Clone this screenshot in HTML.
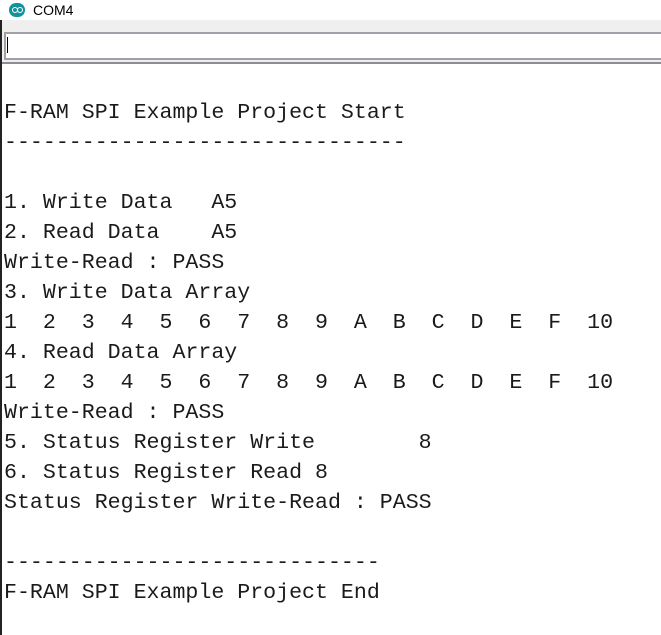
<!DOCTYPE html>
<html><head><style>
html,body{margin:0;padding:0;width:661px;height:635px;overflow:hidden;background:#fff;}
#title{position:absolute;left:0;top:0;width:661px;height:20px;background:#fff;font-family:"Liberation Sans",sans-serif;font-size:14px;color:#000;}
#title span{position:absolute;left:33px;top:2px;}
#icon{position:absolute;left:9px;top:3px;width:16px;height:14px;border-radius:7px;background:#12939b;}
#icon:before{content:"";position:absolute;left:3px;top:4px;width:4px;height:4px;border:1px solid #fff;border-radius:3px;}
#icon:after{content:"";position:absolute;left:8px;top:4px;width:4px;height:4px;border:1px solid #fff;border-radius:3px;}
#lb{position:absolute;left:0;top:20px;width:2px;height:615px;background:#222;}
#bar{position:absolute;left:2px;top:20px;width:659px;height:43px;background:#efefef;}
#inp{position:absolute;left:4px;top:32px;width:660px;height:24px;background:#fff;border:2px solid #a0a0a8;border-right:none;}
#cur{position:absolute;left:7px;top:37px;width:1px;height:16px;background:#000;}
#sep{position:absolute;left:2px;top:62px;width:659px;height:2px;background:#8c8c94;}
pre{position:absolute;left:4px;top:98px;margin:0;font-family:"Liberation Mono",monospace;font-size:21.6px;line-height:30px;color:#1a1a1a;}
</style></head><body>
<div id="title"><div id="icon"></div><span>COM4</span></div>
<div id="lb"></div>
<div id="bar"></div>
<div id="inp"></div>
<div id="cur"></div>
<div id="sep"></div>
<pre>F-RAM SPI Example Project Start
-------------------------------

1. Write Data   A5
2. Read Data    A5
Write-Read : PASS
3. Write Data Array
1  2  3  4  5  6  7  8  9  A  B  C  D  E  F  10
4. Read Data Array
1  2  3  4  5  6  7  8  9  A  B  C  D  E  F  10
Write-Read : PASS
5. Status Register Write        8
6. Status Register Read 8
Status Register Write-Read : PASS

-----------------------------
F-RAM SPI Example Project End</pre>
</body></html>
